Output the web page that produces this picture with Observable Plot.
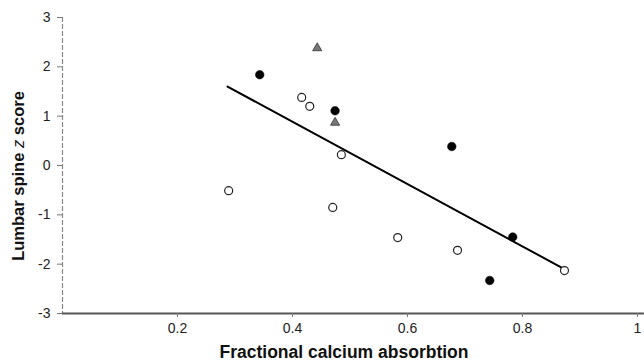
<!DOCTYPE html>
<html>
<head>
<meta charset="utf-8">
<script src="https://cdn.jsdelivr.net/npm/d3@7"></script>
<script src="https://cdn.jsdelivr.net/npm/@observablehq/plot@0.6"></script>
<style>
  html, body { margin: 0; padding: 0; background: #fff; }
  svg { display: block; }
</style>
</head>
<body>
<div id="chart"></div>
<script>
// Filled circles
const filledX = [0.343, 0.474, 0.677, 0.783, 0.743];
const filledY = [1.84, 1.11, 0.385, -1.45, -2.33];
// Open circles
const openX = [0.289, 0.416, 0.430, 0.485, 0.470, 0.583, 0.687, 0.873];
const openY = [-0.51, 1.38, 1.20, 0.22, -0.85, -1.46, -1.72, -2.13];
// Grey triangles
const triX = [0.443, 0.474];
const triY = [2.38, 0.87];
// Regression line end points
const lineX = [0.287, 0.876];
const lineY = [1.60, -2.12];
// Axis ticks
const xTicks = [0.2, 0.4, 0.6, 0.8, 1];
const yTicks = [-3, -2, -1, 0, 1, 2, 3];
const xLabel = "Fractional calcium absorbtion";
const yLabelParts = ["Lumbar spine ", "z", " score"];

const toPts = (xs, ys) => xs.map((x, i) => ({x, y: ys[i]}));

const plot = Plot.plot({
  width: 644,
  height: 363,
  marginLeft: 62,
  marginRight: 7,
  marginTop: 17,
  marginBottom: 50,
  style: {fontFamily: "'Liberation Sans', Arial, sans-serif", fontSize: "14px", color: "#222", background: "#fff"},
  x: {domain: [0, 1], ticks: xTicks, tickFormat: d => String(d), label: null},
  y: {domain: [-3, 3], ticks: yTicks, tickFormat: d => String(d), label: null},
  marks: [
    Plot.ruleX([0], {stroke: "#888", strokeWidth: 1.2, strokeDasharray: "5,2"}),
    Plot.ruleY([-3], {stroke: "#555", strokeWidth: 2, x1: 0, x2: 1.012, clip: false}),
    Plot.axisX({ticks: xTicks, tickFormat: d => String(d), tickSize: 4, tickPadding: 6, stroke: "#777", fill: "#222", fontSize: 14, label: null}),
    Plot.axisY({ticks: yTicks, tickFormat: d => String(d), tickSize: 5, tickPadding: 7, stroke: "#777", fill: "#222", fontSize: 14, label: null}),
    Plot.line(toPts(lineX, lineY), {x: "x", y: "y", stroke: "#000", strokeWidth: 2}),
    Plot.dot(toPts(openX, openY), {x: "x", y: "y", r: 4, fill: "#fff", stroke: "#222", strokeWidth: 1.2}),
    Plot.dot(toPts(filledX, filledY), {x: "x", y: "y", r: 4.3, fill: "#000", stroke: "#000", strokeWidth: 0.5}),
    Plot.dot(toPts(triX, triY), {x: "x", y: "y", symbol: "triangle", r: 3.4, fill: "#777", stroke: "#333", strokeWidth: 0.8})
  ]
});

const svg = d3.select(plot);
svg.append("text")
  .attr("x", 344).attr("y", 358)
  .attr("text-anchor", "middle")
  .attr("font-weight", "bold")
  .attr("font-size", 17.5)
  .attr("fill", "#111")
  .text(xLabel);

const yl = svg.append("text")
  .attr("transform", "translate(24,176) rotate(-90)")
  .attr("text-anchor", "middle")
  .attr("font-weight", "bold")
  .attr("font-size", 16.5)
  .attr("fill", "#111");
yl.append("tspan").text(yLabelParts[0]);
yl.append("tspan").attr("font-style", "italic").attr("font-weight", "normal").text(yLabelParts[1]);
yl.append("tspan").text(yLabelParts[2]);

document.getElementById("chart").appendChild(plot);
</script>
</body>
</html>
